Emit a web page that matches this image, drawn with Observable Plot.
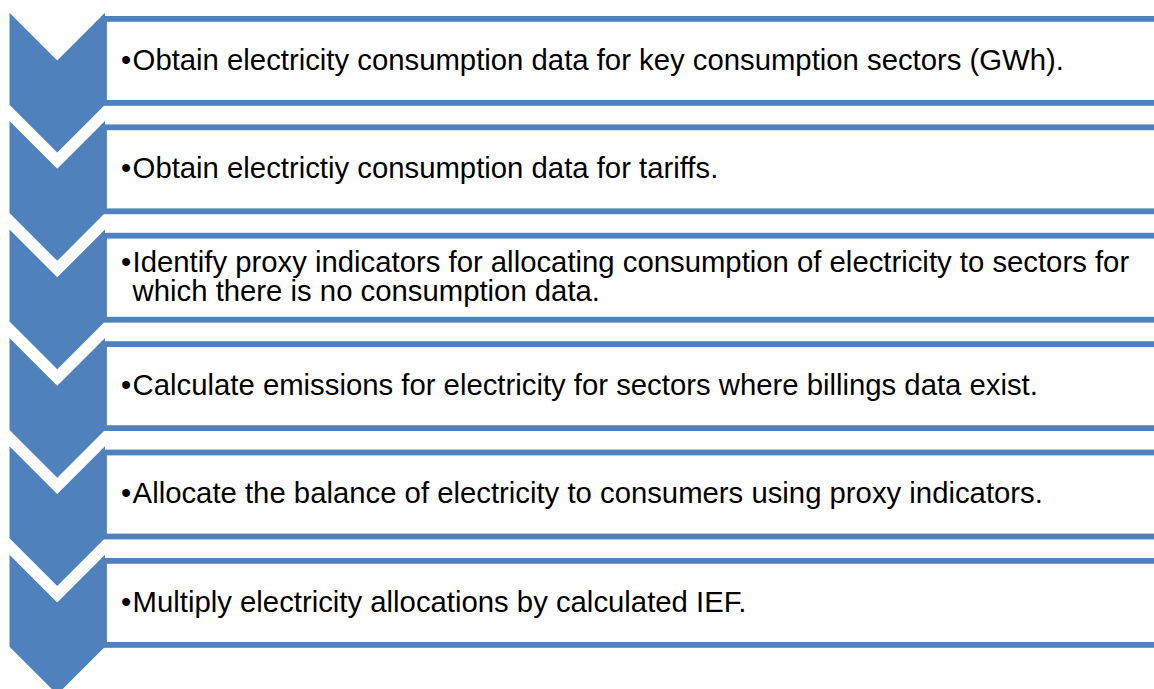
<!DOCTYPE html>
<html><head><meta charset="utf-8">
<script src="https://cdn.jsdelivr.net/npm/d3@7"></script>
<script src="https://cdn.jsdelivr.net/npm/@observablehq/plot@0.6"></script>
<style>html,body{margin:0;padding:0;background:#fff;overflow:hidden}</style>
</head><body><div id="chart"></div>
<script>
// Step texts (one per chevron / box)
const steps = [
  "Obtain electricity consumption data for key consumption sectors (GWh).",
  "Obtain electrictiy consumption data for tariffs.",
  "Identify proxy indicators for allocating consumption of electricity to sectors for\nwhich there is no consumption data.",
  "Calculate emissions for electricity for sectors where billings data exist.",
  "Allocate the balance of electricity to consumers using proxy indicators.",
  "Multiply electricity allocations by calculated IEF."
];
const bulletChar = "•";

// Layout (pixels)
const W = 1154, H = 689;
const blue = "#4F81BD";
const pitch = 108.4, top0 = 12.7;
const chevL = 9.5, chevR = 105, chevSide = 92, chevNotch = 47.75;
const boxL = 104, boxR = 1170, boxTop = 6.2, boxBot = 90.2, boxStroke = 5.8;
const textX = 120.5, bulletW = 11.6, fontSize = 29.3, lineH = 29;

const idx = steps.map((_, i) => i);
const chevMid = (chevL + chevR) / 2;
const chevPts = idx.flatMap(i => {
  const y0 = top0 + i * pitch;
  return [
    {i, x: chevL, y1: y0, y2: y0 + chevSide},
    {i, x: chevMid, y1: y0 + chevNotch, y2: y0 + chevSide + chevNotch},
    {i, x: chevR, y1: y0, y2: y0 + chevSide}
  ];
});
const boxes = idx.map(i => ({i, x1: boxL, x2: boxR, y1: top0 + i * pitch + boxTop, y2: top0 + i * pitch + boxBot}));
const labels = idx.map(i => {
  const n = steps[i].split("\n").length;
  const cy = top0 + i * pitch + (boxTop + boxBot) / 2 - 1;
  return {i, text: steps[i], cy, by: cy - (n - 1) / 2 * lineH};
});

const chart = Plot.plot({
  width: W, height: H,
  margin: 0,
  style: {background: "#fff", overflow: "hidden", fontFamily: "'Liberation Sans', Arial, sans-serif"},
  x: {domain: [0, W], range: [0, W], axis: null},
  y: {domain: [0, H], range: [0, H], axis: null},
  marks: [
    Plot.rect(boxes, {x1: "x1", x2: "x2", y1: "y1", y2: "y2", fill: "white", stroke: blue, strokeWidth: boxStroke}),
    Plot.areaY(chevPts, {x: "x", y1: "y1", y2: "y2", z: "i", fill: blue, curve: "linear"}),
    Plot.text(labels, {x: () => textX, y: "by", text: () => bulletChar, textAnchor: "start", lineAnchor: "middle", fontSize, fill: "black"}),
    Plot.text(labels, {x: () => textX + bulletW, y: "cy", text: "text", textAnchor: "start", lineAnchor: "middle", lineHeight: lineH / fontSize, fontSize, fill: "black"})
  ]
});
document.getElementById("chart").appendChild(chart);
</script>
</body></html>
